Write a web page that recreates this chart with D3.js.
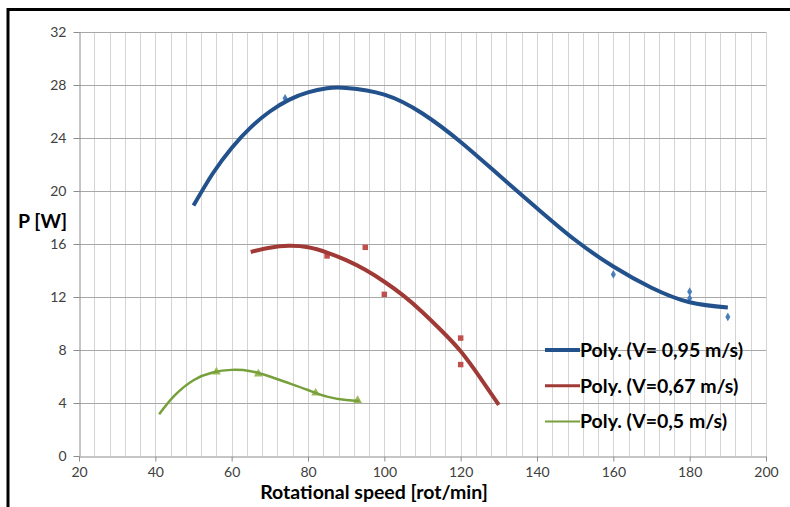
<!DOCTYPE html>
<html>
<head>
<meta charset="utf-8">
<script src="https://cdn.jsdelivr.net/npm/d3@7"></script>
<style>
	body { margin: 0; background: #fff; }
	svg { display: block; }
	text { font-family: Lato, 'Open Sans', sans-serif; }
</style>
</head>
<body>
<div id="chart"></div>
<script>
// axis ticks
const xTickValues = [ 20, 40, 60, 80, 100, 120, 140, 160, 180, 200 ];
const yTickValues = [ 0, 4, 8, 12, 16, 20, 24, 28, 32 ];
const xGridValues = d3.range(20, 201, 4);

// measured points
const blueX = [ 74, 160, 180, 180, 190 ];
const blueY = [ 27.0, 13.7, 12.4, 11.9, 10.5 ];
const redX = [ 85, 95, 100, 120, 120 ];
const redY = [ 15.1, 15.75, 12.2, 8.9, 6.9 ];
const greenX = [ 56, 67, 82, 93 ];
const greenY = [ 6.35, 6.2, 4.75, 4.2 ];

// polynomial trend lines
const blueFitX = [ 50, 55, 60, 65, 70, 75, 80, 85, 90, 100, 110, 120, 130, 140, 150, 160, 170, 180, 190 ];
const blueFitY = [ 18.9, 21.3, 23.25, 24.8, 26.0, 26.88, 27.44, 27.75, 27.78, 27.28, 25.85, 23.7, 21.2, 18.7, 16.3, 14.3, 12.7, 11.6, 11.2 ];
const redFitX = [ 65, 70, 75, 80, 85, 90, 95, 100, 105, 110, 115, 120, 125, 130 ];
const redFitY = [ 15.4, 15.72, 15.86, 15.75, 15.35, 14.78, 14.05, 13.15, 12.1, 10.85, 9.45, 7.9, 5.95, 3.85 ];
const greenFitX = [ 41, 45, 50, 55, 60, 65, 70, 75, 80, 85, 90, 93.5 ];
const greenFitY = [ 3.15, 4.55, 5.72, 6.3, 6.5, 6.4, 6.0, 5.5, 4.98, 4.48, 4.22, 4.15 ];

const legendLabels = [ 'Poly. (V= 0,95 m/s)', 'Poly. (V=0,67 m/s)', 'Poly. (V=0,5 m/s)' ];

const width = 790, height = 507;
const plot = { left: 79, right: 766, top: 32, bottom: 456 };

const svg = d3.select('#chart').append('svg').attr('width', width).attr('height', height);

// outer frame (cut off at right and bottom)
svg.append('rect')
	.attr('x', 8).attr('y', 9.5)
	.attr('width', 800).attr('height', 520)
	.attr('fill', 'none').attr('stroke', '#000').attr('stroke-width', 3);

const x = d3.scaleLinear().domain([ 20, 200 ]).range([ plot.left, plot.right ]);
const y = d3.scaleLinear().domain([ 0, 32 ]).range([ plot.bottom, plot.top ]);

// grid
svg.append('g').selectAll('line').data(xGridValues.slice(1)).enter().append('line')
	.attr('x1', d => Math.round(x(d)) + 0.5).attr('x2', d => Math.round(x(d)) + 0.5)
	.attr('y1', plot.top).attr('y2', plot.bottom)
	.attr('stroke', '#d4d4d4');
svg.append('g').selectAll('line').data(yTickValues.slice(1)).enter().append('line')
	.attr('x1', plot.left).attr('x2', plot.right)
	.attr('y1', d => Math.round(y(d)) + 0.5).attr('y2', d => Math.round(y(d)) + 0.5)
	.attr('stroke', '#a8a8a8');

// axes
const xAxis = d3.axisBottom(x).tickValues(xTickValues).tickSize(5).tickSizeOuter(0).tickPadding(6);
const yAxis = d3.axisLeft(y).tickValues(yTickValues).tickSize(6).tickSizeOuter(0).tickPadding(7);

const gx = svg.append('g').attr('transform', `translate(0,${plot.bottom + 0.5})`).call(xAxis);
const gy = svg.append('g').attr('transform', `translate(${plot.left + 0.5},0)`).call(yAxis);
[ gx, gy ].forEach(g => {
	g.selectAll('path, line').attr('stroke', '#8c8c8c');
	g.selectAll('text').attr('font-size', 14).attr('fill', '#404040').attr('font-family', 'Lato, sans-serif');
});

svg.append('text')
	.attr('x', 374).attr('y', 499)
	.attr('text-anchor', 'middle')
	.attr('font-size', 19.5).attr('font-weight', 'bold').attr('fill', '#000')
	.text('Rotational speed [rot/min]');

svg.append('text')
	.attr('x', 67).attr('y', 228)
	.attr('text-anchor', 'end')
	.attr('font-size', 19.5).attr('font-weight', 'bold').attr('fill', '#000')
	.text('P [W]');

// series
const series = [
	{ fx: blueFitX, fy: blueFitY, px: blueX, py: blueY, line: '#22518c', mark: '#4a7ebb', lw: 4, sym: d3.symbolDiamond, size: 22 },
	{ fx: redFitX, fy: redFitY, px: redX, py: redY, line: '#a03a36', mark: '#c0504d', lw: 4, sym: d3.symbolSquare, size: 30 },
	{ fx: greenFitX, fy: greenFitY, px: greenX, py: greenY, line: '#77a03c', mark: '#9bbb59', lw: 2.5, sym: d3.symbolTriangle, size: 34 }
];

const lineGen = d3.line()
	.x(d => x(d[0]))
	.y(d => y(d[1]))
	.curve(d3.curveNatural);

series.forEach(s => {
	const pts = s.px.map((v, i) => [ v, s.py[i] ]);
	svg.append('g').selectAll('path').data(pts).enter().append('path')
		.attr('d', d3.symbol().type(s.sym).size(s.size))
		.attr('transform', d => `translate(${x(d[0])},${y(d[1])})`)
		.attr('fill', s.mark);
});

series.forEach(s => {
	const fit = s.fx.map((v, i) => [ v, s.fy[i] ]);
	svg.append('path')
		.datum(fit)
		.attr('d', lineGen)
		.attr('fill', 'none')
		.attr('stroke', s.line)
		.attr('stroke-width', s.lw)
		.attr('stroke-linecap', 'butt');
});

// legend
const legend = svg.append('g').attr('transform', 'translate(545,350)');
const legendWidths = [ 4, 3, 2 ];
legendLabels.forEach((label, i) => {
	const row = legend.append('g').attr('transform', `translate(0,${i * 35.7})`);
	row.append('line')
		.attr('x1', 0).attr('x2', 35).attr('y1', 0).attr('y2', 0)
		.attr('stroke', series[i].line).attr('stroke-width', legendWidths[i]);
	row.append('text')
		.attr('x', 35).attr('y', 7)
		.attr('font-size', 19.5).attr('font-weight', 'bold').attr('fill', '#000')
		.text(label);
});
</script>
</body>
</html>
